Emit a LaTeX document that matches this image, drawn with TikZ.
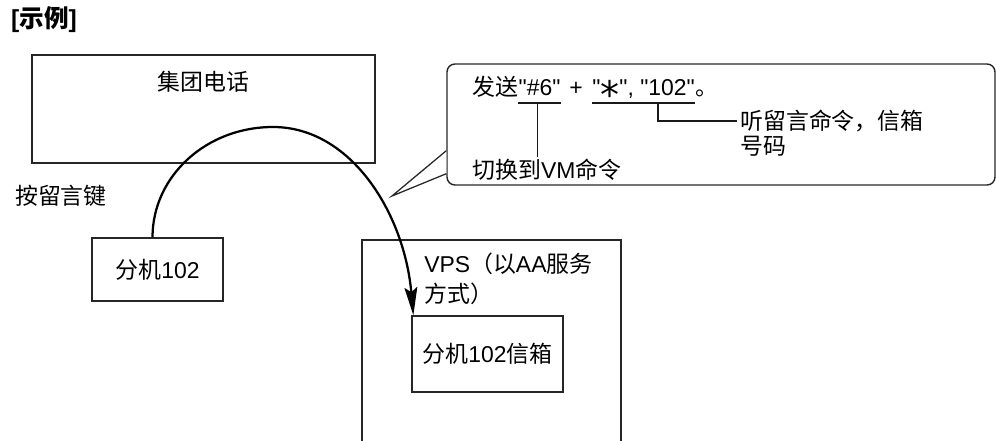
\documentclass[tikz,border=0pt]{standalone}
\usepackage{fontspec}
\setmainfont{Liberation Sans}[Ligatures=TeXOff]
\newfontfamily\cjk{Noto Sans CJK SC}
\newfontfamily\astfont{DejaVu Sans}
\usetikzlibrary{arrows.meta,positioning,calc,fit}
\newcommand{\fs}{\fontsize{16.3pt}{20pt}\selectfont}
\newcommand{\bigast}{\raisebox{-9.5pt}{\fontsize{27pt}{27pt}\astfont *}}
\tikzset{
  box/.style     = {rectangle, draw=black!85, line width=0.9pt, inner sep=0pt},
  lbl/.style     = {inner sep=0pt, font=\fs},
  callbox/.style = {box, rounded corners=2mm, line width=1pt},
  ldr/.style     = {draw=black!90, line width=0.9pt},
  arr/.style     = {-{Stealth[length=7mm, width=3.2mm, inset=1.2mm]}, draw=black, line width=1.6pt}
}
\begin{document}
\begin{tikzpicture}[x=0.025cm, y=-0.025cm]
    \useasboundingbox (0,0) rectangle (996,441);
    \node[lbl, font=\fontsize{17.5pt}{20pt}\selectfont\bfseries] (title) at (44,20) {[{\cjk 示例}]};
    % 集团电话
    \node[box, minimum width=8.575cm, minimum height=2.7cm] (pbx) at (203.5,109) {};
    \node[lbl] (pbxlbl) at ($(pbx.north)+(0,27)$) {\cjk 集团电话};
    \node[lbl] (keylbl) at (61,196) {\cjk 按留言键};
    \node[box, minimum width=3.275cm, minimum height=1.575cm, font=\fs] (ext) at (157.5,269.5) {{\cjk 分机}102};
    % VPS
    \draw[box] (362,441) |- (621,240) -- (621,441);
    \node[lbl, anchor=west] (vps1) at (424,264) {VPS{\cjk （以}AA{\cjk 服务}};
    \node[lbl, anchor=west] (vps2) at (424,294) {\cjk 方式）};
    \node[box, minimum width=3.775cm, minimum height=1.9cm, font=\fs] (mbx) at (487.5,354) {{\cjk 分机}102{\cjk 信箱}};
    \coordinate (peak) at (273,127);
    \draw[arr] ($(ext.north)+(-5,0)$) .. controls +(0,-61) and +(-67,0) .. (peak)
      .. controls +(78,0) and +(-9,-102) .. ($(mbx.north west)+(2,0)$);
    % callout
    \coordinate (cnw) at (447,64);
    \coordinate (cse) at (995,185);
    \node[callbox, fit=(cnw)(cse)] (callout) {};
    \coordinate (tip) at (392,196);
    \filldraw[box, fill=white] ($(callout.south west)+(0,-35)$) -- (tip) -- ($(callout.south west)+(0,-12)$);
    \node[lbl, anchor=base west] (sendw) at (472,95) {\cjk 发送};
    \node[lbl, anchor=base west] (hashk) at (sendw.base east) {"\#6"};
    \node[lbl, anchor=base west] (plusk) at ($(hashk.base east)+(2,0)$) {\ +};
    \node[lbl, anchor=base west] (cmdk) at ($(plusk.base east)+(9,0)$) {"\bigast", "102"};
    \node[lbl, anchor=base west] (endk) at (cmdk.base east) {\cjk 。};
    \coordinate (hl) at ($(hashk.base west)+(0,8)$);
    \coordinate (hr) at ($(hashk.base east)+(0,8)$);
    \coordinate (cl) at ($(cmdk.base west)+(0,8)$);
    \coordinate (cr) at ($(cmdk.base east)+(0,8)$);
    \draw[ldr] (hl) -- (hr);
    \draw[ldr] (cl) -- (cr);
    \node[lbl, anchor=west] (vmlbl) at (472,170) {{\cjk 切换到}VM{\cjk 命令}};
    \node[lbl, anchor=west] (lsn1) at (740,121) {\cjk 听留言命令，信箱};
    \node[lbl, anchor=west] (lsn2) at (740,146) {\cjk 号码};
    \coordinate (hm) at ($(hl)!0.45!(hr)$);
    \coordinate (cm) at ($(cl)!0.64!(cr)$);
    \draw[ldr] (hm) -- ($(hm |- vmlbl.north)+(0,-2)$);
    \draw[ldr] (cm) |- ($(lsn1.west)+(-3,0)$);
\end{tikzpicture}
\end{document}
